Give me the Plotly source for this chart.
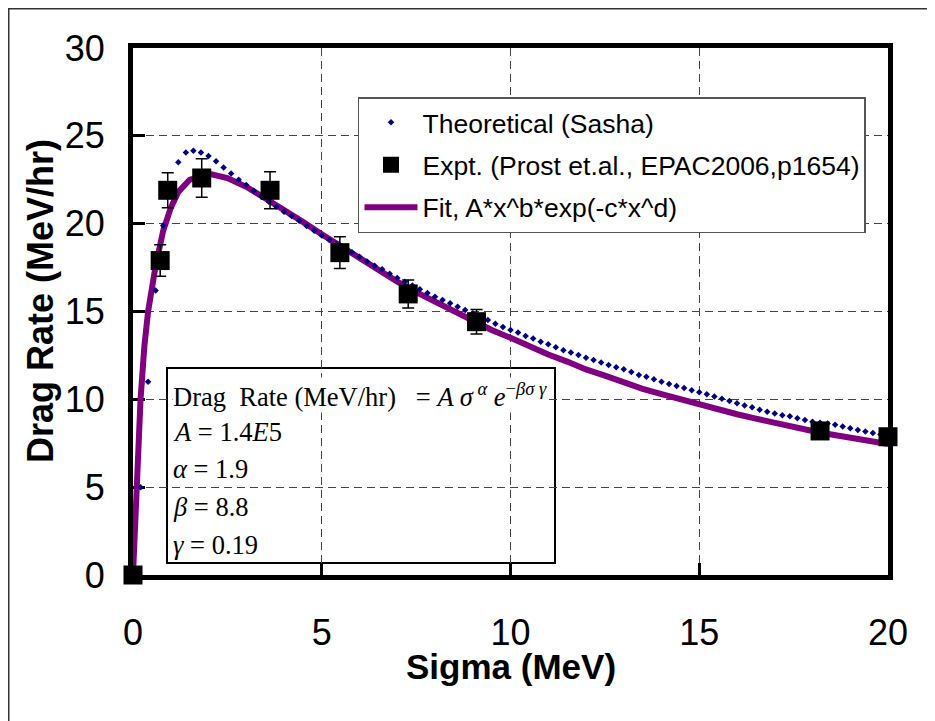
import plotly.graph_objects as go

# ---- data ----
theory_x = [0.0, 0.2, 0.4, 0.6, 0.8, 1.0, 1.2, 1.4, 1.6, 1.8,
            2.0, 2.2, 2.4, 2.6, 2.8, 3.0, 3.2, 3.4, 3.6, 3.8,
            4.0, 4.2, 4.4, 4.6, 4.8, 5.0, 5.2, 5.4, 5.6, 5.8,
            6.0, 6.2, 6.4, 6.6, 6.8, 7.0, 7.2, 7.4, 7.6, 7.8,
            8.0, 8.2, 8.4, 8.6, 8.8, 9.0, 9.2, 9.4, 9.6, 9.8,
            10.0, 10.2, 10.4, 10.6, 10.8, 11.0, 11.2, 11.4, 11.6, 11.8,
            12.0, 12.2, 12.4, 12.6, 12.8, 13.0, 13.2, 13.4, 13.6, 13.8,
            14.0, 14.2, 14.4, 14.6, 14.8, 15.0, 15.2, 15.4, 15.6, 15.8,
            16.0, 16.2, 16.4, 16.6, 16.8, 17.0, 17.2, 17.4, 17.6, 17.8,
            18.0, 18.2, 18.4, 18.6, 18.8, 19.0, 19.2, 19.4, 19.6, 19.8,
            20.0]
theory_y = [0, 5.0, 11.0, 16.2, 19.9, 22.2, 23.5, 24.05, 24.15, 24.05,
            23.85, 23.55, 23.2, 22.85, 22.5, 22.2, 21.88, 21.55, 21.25, 20.97,
            20.68, 20.43, 20.17, 19.87, 19.6, 19.33, 19.07, 18.83, 18.6, 18.37,
            18.12, 17.85, 17.6, 17.4, 17.15, 16.9, 16.7, 16.48, 16.26, 16.05,
            15.84, 15.65, 15.47, 15.27, 15.08, 14.9, 14.7, 14.52, 14.3, 14.12,
            13.95, 13.8, 13.6, 13.47, 13.28, 13.13, 12.96, 12.8, 12.67, 12.52,
            12.37, 12.24, 12.09, 11.96, 11.83, 11.71, 11.55, 11.38, 11.29, 11.15,
            11.0, 10.87, 10.76, 10.64, 10.51, 10.4, 10.29, 10.16, 10.03, 9.9,
            9.78, 9.65, 9.55, 9.4, 9.3, 9.2, 9.1, 9.03, 8.92, 8.82,
            8.73, 8.67, 8.62, 8.56, 8.45, 8.35, 8.26, 8.17, 8.08, 8.0,
            7.92]

expt_x = [0.0, 0.72, 0.92, 1.82, 3.63, 5.48, 7.29, 9.1, 18.2, 20.0]
expt_y = [0.0, 17.9, 21.9, 22.6, 21.9, 18.35, 16.0, 14.42, 8.2, 7.87]
expt_err = [0.0, 0.9, 1.0, 1.1, 1.05, 0.9, 0.8, 0.7, 0.4, 0.4]

fit_x = [0.0, 0.1, 0.2, 0.3, 0.4, 0.6, 0.8, 1.0, 1.2, 1.5, 2.0, 2.5, 3.0, 3.5,
         4.0, 4.5, 5.0, 5.5, 6.0, 6.5, 7.0, 7.5, 8.0, 8.5, 9.0, 9.5, 10.0,
         10.5, 11.0, 11.5, 12.0, 12.5, 13.0, 13.5, 14.0, 14.5, 15.0, 15.5,
         16.0, 16.5, 17.0, 17.5, 18.0, 18.5, 19.0, 19.5, 20.0]
fit_y = [0.0, 6.0, 10.0, 13.0, 15.0, 17.6, 19.6, 20.9, 21.8, 22.5, 22.85, 22.6,
         22.1, 21.45, 20.8, 20.1, 19.4, 18.7, 18.0, 17.35, 16.7, 16.1, 15.55,
         15.0, 14.45, 13.95, 13.5, 13.0, 12.55, 12.15, 11.7, 11.35, 10.95,
         10.6, 10.3, 10.0, 9.7, 9.42, 9.15, 8.9, 8.65, 8.42, 8.2, 8.0, 7.8,
         7.63, 7.45]

x_ticks = [0, 5, 10, 15, 20]
y_ticks = [0, 5, 10, 15, 20, 25, 30]

eq_lines = [
    "Drag\u00a0 Rate (MeV/hr)\u00a0\u00a0 = <i>A σ</i><sup> <i>α</i></sup> <i>e</i><sup>−<i>βσ</i> <i>γ</i></sup>",
    "<i>A</i> = 1.4<i>E</i>5",
    "<i>α</i> = 1.9",
    "<i>β</i> = 8.8",
    "<i>γ</i> = 0.19",
]

SANS = "Liberation Sans, Arial, sans-serif"
SERIF = "Liberation Serif, Times New Roman, serif"

fig = go.Figure()
fig.add_trace(go.Scatter(
    x=fit_x, y=fit_y, mode="lines",
    line=dict(color="#800080", width=6),
    name="Fit, A*x^b*exp(-c*x^d)", legendgroup="f", legendrank=3))
fig.add_trace(go.Scatter(
    x=theory_x, y=theory_y, mode="markers",
    marker=dict(symbol="diamond", size=5, color="#000080"),
    name="Theoretical (Sasha)", legendgroup="t", legendrank=1, cliponaxis=False))
fig.add_trace(go.Scatter(
    x=expt_x, y=expt_y, mode="markers",
    marker=dict(symbol="square", size=19, color="black"),
    error_y=dict(type="data", array=expt_err, color="black", thickness=1.5, width=6),
    name="Expt. (Prost et.al., EPAC2006,p1654)", legendgroup="e", legendrank=2,
    cliponaxis=False))

axis_common = dict(
    showline=True, linewidth=5, linecolor="black", mirror=True,
    ticks="inside", ticklen=12, tickwidth=3, tickcolor="black",
    showgrid=True, gridcolor="#444444", gridwidth=1, griddash="8px,5px",
    zeroline=False, layer="below traces",
    tickfont=dict(family=SANS, size=36, color="black"),
)

fig.update_xaxes(range=[0, 20], tickvals=x_ticks, ticklabelstandoff=22, **axis_common)
fig.update_yaxes(range=[0, 30], tickvals=y_ticks, ticklabelstandoff=16, **axis_common)

# plot area in figure px: left 125, right 880, top 40, bottom 567
def px_x(p):
    return (p - 125) / 755.0

def px_y(p):
    return (567 - p) / 527.0

# axis titles
fig.add_annotation(xref="paper", yref="paper", x=px_x(503), y=px_y(658),
                   xanchor="center", yanchor="middle", showarrow=False,
                   text="Sigma (MeV)",
                   font=dict(family=SANS, size=35, color="black", weight="bold"))
fig.add_annotation(xref="paper", yref="paper", x=px_x(32), y=px_y(293),
                   xanchor="center", yanchor="middle", showarrow=False,
                   textangle=-90, text="Drag Rate (MeV/hr)",
                   font=dict(family=SANS, size=36, color="black", weight="bold"))

# equation box
fig.add_shape(type="rect", xref="paper", yref="paper",
              x0=px_x(159), x1=px_x(547), y0=px_y(555), y1=px_y(360),
              line=dict(color="black", width=2), fillcolor="white", layer="between")
line_centers = [387, 424, 461, 499, 537]
for txt, yc in zip(eq_lines, line_centers):
    fig.add_annotation(xref="paper", yref="paper", x=px_x(164), y=px_y(yc),
                       xanchor="left", yanchor="middle", showarrow=False,
                       text=txt, align="left", bgcolor="white", borderpad=0,
                       font=dict(family=SERIF, size=26.5, color="black"))

# outer picture frame
fig.add_shape(type="rect", xref="paper", yref="paper",
              x0=px_x(0.75), x1=1.6, y0=-1.0, y1=px_y(0.75),
              line=dict(color="#333333", width=1.5), layer="below")

fig.update_layout(
    width=935, height=721,
    margin=dict(l=125, r=55, t=40, b=154),
    paper_bgcolor="white", plot_bgcolor="white",
    font=dict(family=SANS, color="black"),
    legend=dict(x=0.298, y=0.907, xanchor="left", yanchor="top",
                bordercolor="#555555", borderwidth=1.5, bgcolor="white",
                font=dict(family=SANS, size=26.5, color="black"),
                itemwidth=53, traceorder="grouped", tracegroupgap=5),
    showlegend=True,
)

fig.write_html("out.html")
